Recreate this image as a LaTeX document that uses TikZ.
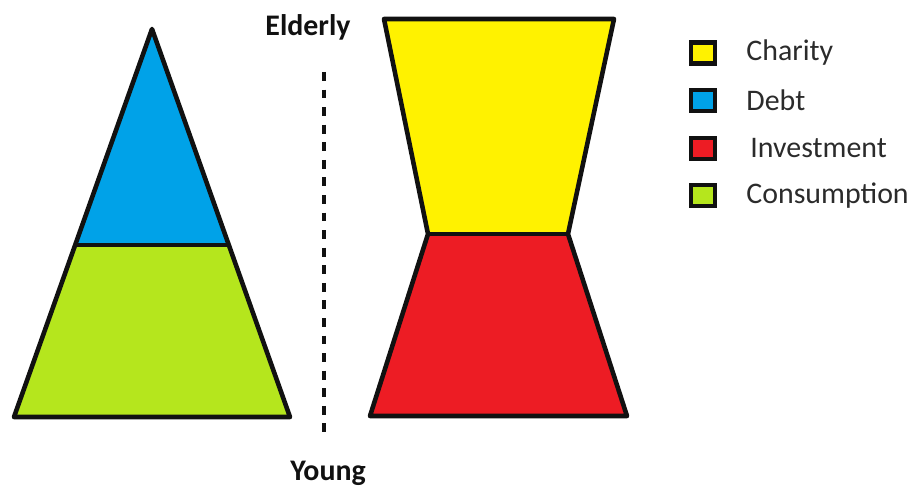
\documentclass[tikz,border=0pt]{standalone}
\usepackage{fontspec}
\setmainfont{Carlito}
\usepackage{tikz}
\usetikzlibrary{positioning,calc}
\definecolor{charity}{HTML}{FFF200}
\definecolor{debt}{HTML}{00A2E8}
\definecolor{invest}{HTML}{ED1C24}
\definecolor{consume}{HTML}{B5E61D}
\definecolor{ink}{HTML}{111111}
\definecolor{soft}{HTML}{2B2B2B}

\begin{document}
\begin{tikzpicture}[font=\fontsize{17}{20}\selectfont,
    edge/.style={draw=ink, line width=2.6pt, line join=round},
    swatch/.style={draw=ink, line width=2.4pt, minimum width=0.48cm, minimum height=0.42cm, inner sep=0pt},
    entry/.style={soft, inner sep=0pt, anchor=west}]
  \useasboundingbox (0,0) rectangle (18.32,9.72);
  % pyramid: young at the bottom, elderly at the top
  \coordinate (apex) at (3.04,9.14);
  \coordinate (pl) at (0.28,1.38);
  \coordinate (pr) at (5.80,1.38);
  \coordinate (ml) at ($(apex)!0.557!(pl)$);
  \coordinate (mr) at ($(apex)!0.557!(pr)$);
  \fill[consume] (pl) -- (pr) -- (mr) -- (ml) -- cycle;
  \fill[debt] (ml) -- (mr) -- (apex) -- cycle;
  \draw[edge] (apex) -- (pl) -- (pr) -- cycle;
  \draw[edge] (ml) -- (mr);
  % divider
  \coordinate (dtop) at (6.48,8.28);
  \coordinate (dbot) at (6.48,1.08);
  \draw[ink, line width=2pt, dash pattern=on 5pt off 5pt] (dtop) -- (dbot);
  \node[font=\fontsize{17}{20}\selectfont\bfseries, ink] (old) at (6.16,9.18) {Elderly};
  \node[font=\fontsize{17}{20}\selectfont\bfseries, ink] (young) at (6.56,0.26) {Young};
  % hourglass
  \coordinate (tl) at (7.68,9.34);
  \coordinate (tr) at (12.28,9.34);
  \coordinate (wl) at (8.56,5.04);
  \coordinate (wr) at (11.36,5.04);
  \coordinate (bl) at (7.40,1.40);
  \coordinate (br) at (12.54,1.40);
  \fill[charity] (tl) -- (tr) -- (wr) -- (wl) -- cycle;
  \fill[invest] (wl) -- (wr) -- (br) -- (bl) -- cycle;
  \draw[edge] (tl) -- (tr) -- (wr) -- (br) -- (bl) -- (wl) -- cycle;
  \draw[edge] (wl) -- (wr);
  % legend
  \node[swatch, fill=charity] (kc) at (14.06,8.66) {};
  \node[swatch, fill=debt, below=0.44cm of kc] (kd) {};
  \node[swatch, fill=invest, below=0.46cm of kd] (ki) {};
  \node[swatch, fill=consume, below=0.44cm of ki] (kn) {};
  \node[entry, right=0.58cm of kc] (tc) {Charity};
  \node[entry, right=0.58cm of kd] (td) {Debt};
  \node[entry, right=0.66cm of ki] (ti) {Investment};
  \node[entry, right=0.58cm of kn] (tn) {Consumption};
\end{tikzpicture}
\end{document}
